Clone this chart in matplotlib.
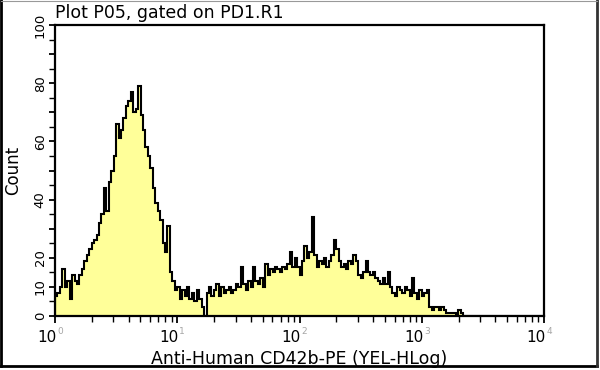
import numpy as np
import matplotlib
matplotlib.use("Agg")
import matplotlib.pyplot as plt
from matplotlib.lines import Line2D
from matplotlib.ticker import FixedLocator, NullFormatter

plt.rcParams.update({"font.family": "DejaVu Sans", "figure.dpi": 100})

# histogram: 50 channels per decade, 10^0 .. 10^4
N_BINS = 200
COUNTS = [
    7, 8, 10, 16, 10, 12, 6, 14, 12, 11,
    14, 16, 19, 21, 23, 25, 26, 28, 32, 35,
    44, 36, 46, 50, 55, 66, 61, 64, 68, 72,
    74, 77, 70, 71, 79, 69, 64, 58, 55, 51,
    44, 39, 36, 33, 25, 22, 31, 15, 12, 9,
    10, 6, 9, 7, 10, 6, 8, 5, 9, 6,
    3, 0, 8, 10, 7, 9, 11, 7, 10, 8,
    9, 10, 8, 9, 11, 10, 17, 11, 9, 12,
    10, 17, 12, 11, 13, 10, 18, 14, 16, 15,
    17, 16, 15, 17, 16, 18, 22, 17, 20, 17,
    14, 19, 24, 20, 22, 34, 21, 17, 19, 18,
    20, 17, 19, 21, 26, 23, 19, 17, 18, 16,
    19, 18, 21, 19, 14, 13, 15, 19, 15, 14,
    15, 13, 12, 11, 13, 11, 15, 10, 8, 7,
    10, 9, 8, 10, 9, 7, 13, 8, 6, 9,
    7, 8, 9, 3, 2, 3, 3, 2, 3, 2,
    1, 1, 1, 1, 0, 2, 1, 0,
]
COUNTS = COUNTS + [0] * (N_BINS - len(COUNTS))
DECADES = [0, 1, 2, 3, 4]
Y_TICKS = [0, 10, 20, 30, 40, 50, 60, 70, 80, 90, 100]
Y_LABELS = ["0", "10", "20", "", "40", "", "60", "", "80", "", "100"]

edges = np.logspace(0, 4, N_BINS + 1)

fig = plt.figure(figsize=(6.0, 3.7))
ax = fig.add_axes([55 / 600, 54 / 370, 489 / 600, 291 / 370])

ax.stairs(COUNTS, edges, fill=True, color="#ffff99", zorder=2)
ax.stairs(COUNTS, edges, color="black", lw=1.5, zorder=3)

ax.set_xscale("log")
ax.set_xlim(1, 1e4)
ax.set_ylim(0, 100)

ax.xaxis.set_major_locator(FixedLocator([10.0 ** d for d in DECADES]))
minors = [m * 10.0 ** d for d in DECADES[:-1] for m in range(2, 10)]
ax.xaxis.set_minor_locator(FixedLocator(minors))
ax.xaxis.set_major_formatter(NullFormatter())
ax.xaxis.set_minor_formatter(NullFormatter())
ax.tick_params(axis="x", which="major", length=5, width=1.3, direction="out")
ax.tick_params(axis="x", which="minor", length=4, width=1.0, direction="out")

for d in DECADES:
    ax.annotate("10", xy=(10.0 ** d, 0), xycoords=("data", "axes fraction"),
                xytext=(1, -10), textcoords="offset points",
                ha="right", va="top", fontsize=11)
    ax.annotate(str(d), xy=(10.0 ** d, 0), xycoords=("data", "axes fraction"),
                xytext=(1.5, -8), textcoords="offset points",
                ha="left", va="top", fontsize=6.5, color="0.65")

ax.set_yticks(Y_TICKS)
ax.set_yticklabels(Y_LABELS, rotation=90, va="center", fontsize=9.5)
ax.yaxis.set_minor_locator(FixedLocator(np.arange(5, 100, 10)))
ax.tick_params(axis="y", which="major", length=4, width=1.3, direction="out", pad=2)
ax.tick_params(axis="y", which="minor", length=4, width=1.0, direction="out")

for s in ax.spines.values():
    s.set_linewidth(1.6)
    s.set_zorder(4)

ax.set_ylabel("Count", fontsize=12)
ax.yaxis.set_label_coords(-0.067, 0.5)
ax.set_xlabel("Anti-Human CD42b-PE (YEL-HLog)", fontsize=12.5)
ax.xaxis.set_label_coords(0.5, -0.118)

fig.text(55 / 600, 1 - 13 / 370, "Plot P05, gated on PD1.R1", fontsize=12.5,
         ha="left", va="center")

# outer frame of the original screenshot
fig.add_artist(Line2D([0.002, 0.002], [0.01, 1.0], color="black", lw=2, transform=fig.transFigure))
fig.add_artist(Line2D([0.002, 0.995], [0.012, 0.012], color="black", lw=2, transform=fig.transFigure))
fig.add_artist(Line2D([0.995, 0.995], [0.01, 1.0], color="0.2", lw=2, transform=fig.transFigure))
fig.add_artist(Line2D([0.002, 0.995], [0.998, 0.998], color="0.6", lw=0.8, transform=fig.transFigure))

fig.savefig("out.png", dpi=100)
